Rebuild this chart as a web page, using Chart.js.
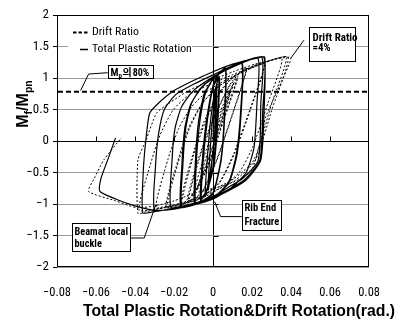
<!DOCTYPE html>
<html>
<head>
<meta charset="utf-8">
<script src="https://cdn.jsdelivr.net/npm/chart.js@4.4.1/dist/chart.umd.min.js"></script>
<style>
  html, body { margin: 0; padding: 0; background: #fff; }
  canvas { display: block; }
</style>
</head>
<body>
<canvas id="chart" width="398" height="321"></canvas>
<script>
// Axis ticks
const xTickValues = [-0.08, -0.06, -0.04, -0.02, 0, 0.02, 0.04, 0.06, 0.08];
const xTickLabels = ['\u22120.08', '\u22120.06', '\u22120.04', '\u22120.02', '0', '0.02', '0.04', '0.06', '0.08'];
const yTickValues = [-2, -1.5, -1, -0.5, 0, 0.5, 1, 1.5, 2];
const yTickLabels = ['\u22122', '\u22121.5', '\u22121', '\u22120.5', '0', '0.5', '1', '1.5', '2'];

// Reference level: 80% of Mp
const mp80Level = 0.78;
const mp80Span = [-0.0795, 0.08];

// Total plastic rotation (rad) vs Mf/Mpn, in loading order
const plasticPath = [
  [0, 0],
  [0.0006, 0.45], [0.0015, 0.80],
  [0.0010, 0.20], [-0.0010, -0.45], [-0.0025, -0.78],
  [-0.0016, -0.20], [0.0002, 0.50], [0.0020, 0.92],
  [0.0012, 0.20], [-0.0015, -0.50], [-0.0040, -0.88],
  [-0.0030, -0.30], [-0.0010, 0.40], [0.0010, 0.80], [0.0030, 1.00],
  [0.0020, 0.30], [0.0000, -0.40], [-0.0030, -0.75], [-0.0060, -0.93],
  [-0.0050, -0.30], [-0.0030, 0.30], [0.0000, 0.85], [0.0032, 1.02],
  [0.0024, 0.30], [0.0004, -0.40], [-0.0030, -0.78], [-0.0065, -0.94],
  [-0.0055, -0.30], [-0.0035, 0.30], [0.0000, 0.88], [0.0030, 1.06], [0.0064, 1.16],
  [0.0058, 0.40], [0.0040, -0.30], [0.0000, -0.82], [-0.0050, -0.94], [-0.0090, -0.99],
  [-0.0085, -0.30], [-0.0068, 0.30], [-0.0040, 0.75], [0.0000, 0.98], [0.0040, 1.10], [0.0066, 1.15],
  [0.0060, 0.40], [0.0042, -0.30], [0.0000, -0.84], [-0.0050, -0.95], [-0.0095, -1.00],
  [-0.0090, -0.30], [-0.0075, 0.30], [-0.0045, 0.75], [0.0000, 0.98], [0.0060, 1.13], [0.0147, 1.24],
  [0.0142, 0.50], [0.0120, -0.20], [0.0080, -0.65], [0.0000, -0.90], [-0.0080, -0.99], [-0.0160, -1.04],
  [-0.0155, -0.40], [-0.0140, 0.20], [-0.0110, 0.60], [-0.0060, 0.85], [0.0000, 1.00], [0.0080, 1.15], [0.0150, 1.23],
  [0.0145, 0.50], [0.0124, -0.20], [0.0082, -0.66], [0.0000, -0.91], [-0.0080, -1.00], [-0.0165, -1.05],
  [-0.0160, -0.40], [-0.0145, 0.20], [-0.0115, 0.58], [-0.0060, 0.84], [0.0000, 1.00], [0.0100, 1.18], [0.0230, 1.31],
  [0.0225, 0.60], [0.0210, -0.10], [0.0170, -0.50], [0.0090, -0.75], [0.0000, -0.92], [-0.0100, -1.01], [-0.0215, -1.06],
  [-0.0210, -0.30], [-0.0195, 0.20], [-0.0160, 0.55], [-0.0100, 0.80], [0.0000, 1.02], [0.0120, 1.20], [0.0250, 1.33],
  [0.0245, 0.60], [0.0232, -0.30], [0.0150, -0.60], [0.0080, -0.73], [0.0000, -0.88], [-0.0100, -0.99], [-0.0200, -1.06], [-0.0300, -1.10],
  [-0.0295, -0.40], [-0.0280, 0.10], [-0.0250, 0.50], [-0.0190, 0.74], [-0.0100, 0.90], [0.0000, 1.05], [0.0120, 1.22], [0.0260, 1.33],
  [0.0255, 0.50], [0.0240, -0.30], [0.0160, -0.62], [0.0060, -0.80], [-0.0050, -0.96], [-0.0180, -1.06], [-0.0300, -1.12], [-0.0360, -1.14],
  [-0.0358, -0.50], [-0.0345, 0.00], [-0.0325, 0.44], [-0.0280, 0.60], [-0.0200, 0.80], [-0.0100, 0.96], [0.0000, 1.10], [0.0100, 1.22], [0.0230, 1.32], [0.0265, 1.33],
  [0.0262, 0.50], [0.0245, -0.30], [0.0170, -0.62], [0.0060, -0.82], [-0.0060, -0.98], [-0.0200, -1.08], [-0.0300, -1.10], [-0.0400, -1.03], [-0.0500, -0.92], [-0.0580, -0.80],
  [-0.0575, -0.60], [-0.0540, -0.30], [-0.0500, 0.05]
];

// Drift rotation (rad) vs Mf/Mpn, in loading order
const driftPath = [
  [0, 0],
  [0.0048, 0.45], [0.0090, 0.80],
  [0.0029, 0.20], [-0.0042, -0.45], [-0.0081, -0.78],
  [-0.0030, -0.20], [0.0049, 0.50], [0.0106, 0.92],
  [0.0031, 0.20], [-0.0051, -0.50], [-0.0103, -0.88],
  [-0.0052, -0.30], [0.0028, 0.40], [0.0085, 0.80], [0.0124, 1.00],
  [0.0048, 0.30], [-0.0029, -0.40], [-0.0084, -0.75], [-0.0127, -0.93],
  [-0.0072, -0.30], [-0.0002, 0.30], [0.0080, 0.85], [0.0128, 1.02],
  [0.0052, 0.30], [-0.0025, -0.40], [-0.0086, -0.78], [-0.0133, -0.94],
  [-0.0077, -0.30], [-0.0007, 0.30], [0.0083, 0.88], [0.0130, 1.06], [0.0173, 1.16],
  [0.0096, 0.40], [0.0018, -0.30], [-0.0059, -0.82], [-0.0118, -0.94], [-0.0161, -0.99],
  [-0.0107, -0.30], [-0.0040, 0.30], [0.0031, 0.75], [0.0092, 0.98], [0.0143, 1.10], [0.0174, 1.15],
  [0.0098, 0.40], [0.0020, -0.30], [-0.0060, -0.84], [-0.0118, -0.95], [-0.0167, -1.00],
  [-0.0112, -0.30], [-0.0047, 0.30], [0.0026, 0.75], [0.0092, 0.98], [0.0166, 1.13], [0.0264, 1.24],
  [0.0189, 0.50], [0.0106, -0.20], [0.0033, -0.65], [-0.0065, -0.90], [-0.0151, -0.99], [-0.0235, -1.04],
  [-0.0184, -0.40], [-0.0121, 0.20], [-0.0054, 0.60], [0.0020, 0.85], [0.0094, 1.00], [0.0188, 1.15], [0.0266, 1.23],
  [0.0192, 0.50], [0.0110, -0.20], [0.0034, -0.66], [-0.0066, -0.91], [-0.0152, -1.00], [-0.0241, -1.05],
  [-0.0189, -0.40], [-0.0126, 0.20], [-0.0060, 0.58], [0.0019, 0.84], [0.0094, 1.00], [0.0211, 1.18], [0.0353, 1.31],
  [0.0281, 0.60], [0.0203, -0.10], [0.0134, -0.50], [0.0036, -0.75], [-0.0066, -0.92], [-0.0173, -1.01], [-0.0291, -1.06],
  [-0.0232, -0.30], [-0.0176, 0.20], [-0.0108, 0.55], [-0.0025, 0.80], [0.0096, 1.02], [0.0233, 1.20], [0.0375, 1.33],
  [0.0301, 0.60], [0.0210, -0.30], [0.0107, -0.60], [0.0027, -0.73], [-0.0063, -0.88], [-0.0171, -0.99], [-0.0276, -1.06], [-0.0379, -1.10],
  [-0.0324, -0.40], [-0.0271, 0.10], [-0.0203, 0.50], [-0.0120, 0.74], [-0.0015, 0.90], [0.0099, 1.05], [0.0235, 1.22], [0.0385, 1.33],
  [0.0302, 0.50], [0.0218, -0.30], [0.0115, -0.62], [0.0002, -0.80], [-0.0119, -0.96], [-0.0256, -1.06], [-0.0340, -1.12], [-0.0385, -1.15],
  [-0.0385, -0.30], [-0.0345, 0.00], [-0.0290, 0.44], [-0.0225, 0.60], [-0.0125, 0.80], [-0.0010, 0.96], [0.0103, 1.10], [0.0215, 1.22], [0.0340, 1.31], [0.0400, 1.32],
  [0.0330, 0.80], [0.0270, 0.38], [0.0235, -0.10], [0.0200, -0.45], [0.0147, -0.59], [0.0064, -0.70], [-0.0098, -0.83], [-0.0200, -0.95], [-0.0300, -1.03], [-0.0390, -1.06], [-0.0500, -0.95], [-0.0638, -0.80],
  [-0.0610, -0.60], [-0.0560, -0.30], [-0.0470, 0.05]
];

const NARROW = '"Roboto Condensed", "Liberation Sans", Arial, sans-serif';
const WIDE = '"Liberation Sans", Arial, sans-serif';
const KR = '"Noto Sans CJK KR"';

const toPoints = path => path.map(([x, y]) => ({ x, y }));

// Frame, zero-line ticks, legend, titles and callouts
const chartDecor = {
  id: 'chartDecor',
  afterDraw(chart) {
    const { ctx, chartArea: a, scales: { x, y } } = chart;
    const px = v => x.getPixelForValue(v);
    const py = v => y.getPixelForValue(v);
    ctx.save();

    // plot frame
    ctx.strokeStyle = '#000';
    ctx.lineWidth = 1;
    ctx.setLineDash([]);
    ctx.strokeRect(Math.round(a.left) + 0.5, Math.round(a.top) + 0.5,
                   Math.round(a.right - a.left) - 1, Math.round(a.bottom - a.top) - 1);

    // tick marks on the zero lines
    const x0 = Math.round(px(0)) + 0.5, y0 = Math.round(py(0)) + 0.5;
    ctx.beginPath();
    xTickValues.forEach(v => {
      if (v !== 0 && Math.abs(v) < 0.079) {
        const X = Math.round(px(v)) + 0.5;
        ctx.moveTo(X, y0); ctx.lineTo(X, y0 - 5);
      }
    });
    yTickValues.forEach(v => {
      if (v !== 0 && Math.abs(v) < 1.99) {
        const Y = Math.round(py(v)) + 0.5;
        ctx.moveTo(x0, Y); ctx.lineTo(x0 + 5, Y);
      }
    });
    ctx.stroke();

    // legend
    const lx = a.left, ly = a.top;
    ctx.fillStyle = '#fff';
    ctx.fillRect(lx + 11, ly + 7, 124, 36);
    ctx.strokeStyle = '#000';
    ctx.lineWidth = 2;
    ctx.setLineDash([3.5, 2]);
    ctx.beginPath(); ctx.moveTo(lx + 16, ly + 17.5); ctx.lineTo(lx + 31, ly + 17.5); ctx.stroke();
    ctx.setLineDash([]);
    ctx.lineWidth = 1.5;
    ctx.beginPath(); ctx.moveTo(lx + 23, ly + 34.5); ctx.lineTo(lx + 31, ly + 34.5); ctx.stroke();
    ctx.fillStyle = '#000';
    ctx.font = '11.8px ' + NARROW;
    ctx.textBaseline = 'middle';
    ctx.textAlign = 'left';
    ctx.fillText('Drift Ratio', lx + 35, ly + 17.5);
    ctx.fillText('Total Plastic Rotation', lx + 35, ly + 34.5);

    // callout boxes
    ctx.lineWidth = 1;
    const box = (xv, yv, w, h) => {
      const L = Math.round(px(xv)) + 0.5, T = Math.round(py(yv)) + 0.5;
      ctx.fillStyle = '#fff';
      ctx.fillRect(L, T, w, h);
      ctx.strokeRect(L, T, w, h);
      ctx.fillStyle = '#000';
      return [L, T];
    };
    const leader = pts => {
      ctx.beginPath();
      pts.forEach(([xv, yv], i) => {
        const X = px(xv), Y = py(yv);
        if (i === 0) ctx.moveTo(X, Y); else ctx.lineTo(X, Y);
      });
      ctx.stroke();
    };

    // 80% of Mp
    leader([[-0.0540, 1.084], [-0.0638, 1.063], [-0.0679, 0.80]]);
    let [L, T] = box(-0.0540, 1.206, 45, 13);
    ctx.font = 'bold 10.5px ' + NARROW + ', ' + KR;
    ctx.textBaseline = 'alphabetic';
    ctx.fillText('M', L + 2, T + 10.5);
    let w = ctx.measureText('M').width;
    ctx.font = 'bold 7px ' + NARROW;
    ctx.fillText('p', L + 2 + w, T + 12);
    const w2 = ctx.measureText('p').width;
    ctx.font = 'bold 10px ' + NARROW + ', ' + KR;
    ctx.fillText('\uC758', L + 2.5 + w + w2, T + 10.5);
    const w3 = ctx.measureText('\uC758').width;
    ctx.fillText('80%', L + 3.5 + w + w2 + w3, T + 10.5);

    // drift ratio = 4%
    leader([[0.0466, 1.60], [0.0400, 1.32]]);
    [L, T] = box(0.0490, 1.81, 46, 34);
    ctx.font = 'bold 11px ' + NARROW;
    ctx.textBaseline = 'middle';
    ctx.fillText('Drift Ratio', L + 3, T + 10.5);
    ctx.fillText('=4%', L + 3, T + 20.5);

    // rib end fracture
    leader([[0.0008, -0.963], [0.0039, -1.20], [0.0147, -1.20]]);
    [L, T] = box(0.0147, -0.937, 39, 30);
    ctx.font = 'bold 10.5px ' + NARROW;
    ctx.fillText('Rib End', L + 2, T + 8);
    ctx.fillText('Fracture', L + 2, T + 22);

    // beam local buckling
    leader([[-0.0437, -1.54], [-0.0353, -1.54], [-0.0294, -1.016]]);
    [L, T] = box(-0.0723, -1.30, 58, 28);
    ctx.font = 'bold 10.3px ' + NARROW;
    ctx.fillText('Beamat local', L + 2, T + 8.5);
    ctx.fillText('buckle', L + 2, T + 21);

    // axis titles
    ctx.fillStyle = '#000';
    ctx.textBaseline = 'alphabetic';
    ctx.textAlign = 'center';
    ctx.font = 'bold 15.8px ' + WIDE;
    ctx.fillText('Total Plastic Rotation&Drift Rotation(rad.)', 239, 316);

    // y title with subscripts, rotated
    ctx.save();
    ctx.translate(28, 104);
    ctx.rotate(-Math.PI / 2);
    ctx.textAlign = 'left';
    const parts = [['M', 16, 0], ['f', 10.5, 3.5], ['/M', 16, 0], ['pn', 10.5, 3.5]];
    let total = 0;
    parts.forEach(([t, s]) => { ctx.font = 'bold ' + s + 'px ' + WIDE; total += ctx.measureText(t).width; });
    let cx = -total / 2;
    parts.forEach(([t, s, dy]) => {
      ctx.font = 'bold ' + s + 'px ' + WIDE;
      ctx.fillText(t, cx, dy);
      cx += ctx.measureText(t).width;
    });
    ctx.restore();

    ctx.restore();
  }
};

new Chart(document.getElementById('chart'), {
  type: 'scatter',
  data: {
    datasets: [
      {
        label: 'Mp 80%',
        data: mp80Span.map(v => ({ x: v, y: mp80Level })),
        showLine: true, borderColor: '#000', borderWidth: 2, borderDash: [5, 3],
        pointRadius: 0
      },
      {
        label: 'Drift Ratio',
        data: toPoints(driftPath),
        showLine: true, borderColor: '#000', borderWidth: 1, borderDash: [2, 2],
        pointRadius: 0, tension: 0.2
      },
      {
        label: 'Total Plastic Rotation',
        data: toPoints(plasticPath),
        showLine: true, borderColor: '#000', borderWidth: 1.2,
        pointRadius: 0, tension: 0.2
      }
    ]
  },
  options: {
    responsive: false,
    animation: false,
    devicePixelRatio: 1,
    layout: { padding: { left: 0, right: 15, top: 15, bottom: 0 } },
    plugins: { legend: { display: false }, tooltip: { enabled: false } },
    scales: {
      x: {
        type: 'linear', min: -0.08, max: 0.08,
        afterBuildTicks: s => { s.ticks = xTickValues.map(v => ({ value: v })); },
        afterFit: s => { s.height = 54; },
        border: { display: false },
        grid: {
          drawTicks: false,
          color: c => (c.tick && c.tick.value === 0) ? '#000' : 'rgba(0,0,0,0)',
          lineWidth: 1
        },
        ticks: {
          padding: 18, color: '#000', maxRotation: 0, autoSkip: false,
          font: { family: NARROW, size: 12.5 },
          callback: (v, i) => xTickLabels[i]
        }
      },
      y: {
        type: 'linear', min: -2, max: 2,
        afterBuildTicks: s => { s.ticks = yTickValues.map(v => ({ value: v })); },
        afterFit: s => { s.width = 57; },
        border: { display: false },
        grid: {
          drawTicks: true, tickLength: 4, tickColor: '#000',
          color: c => (c.tick && c.tick.value === 0) ? '#000' : '#9a9a9a',
          lineWidth: 1
        },
        ticks: {
          padding: 4, color: '#000', autoSkip: false,
          font: { family: NARROW, size: 13 },
          callback: (v, i) => yTickLabels[i]
        }
      }
    }
  },
  plugins: [chartDecor]
});
</script>
</body>
</html>
